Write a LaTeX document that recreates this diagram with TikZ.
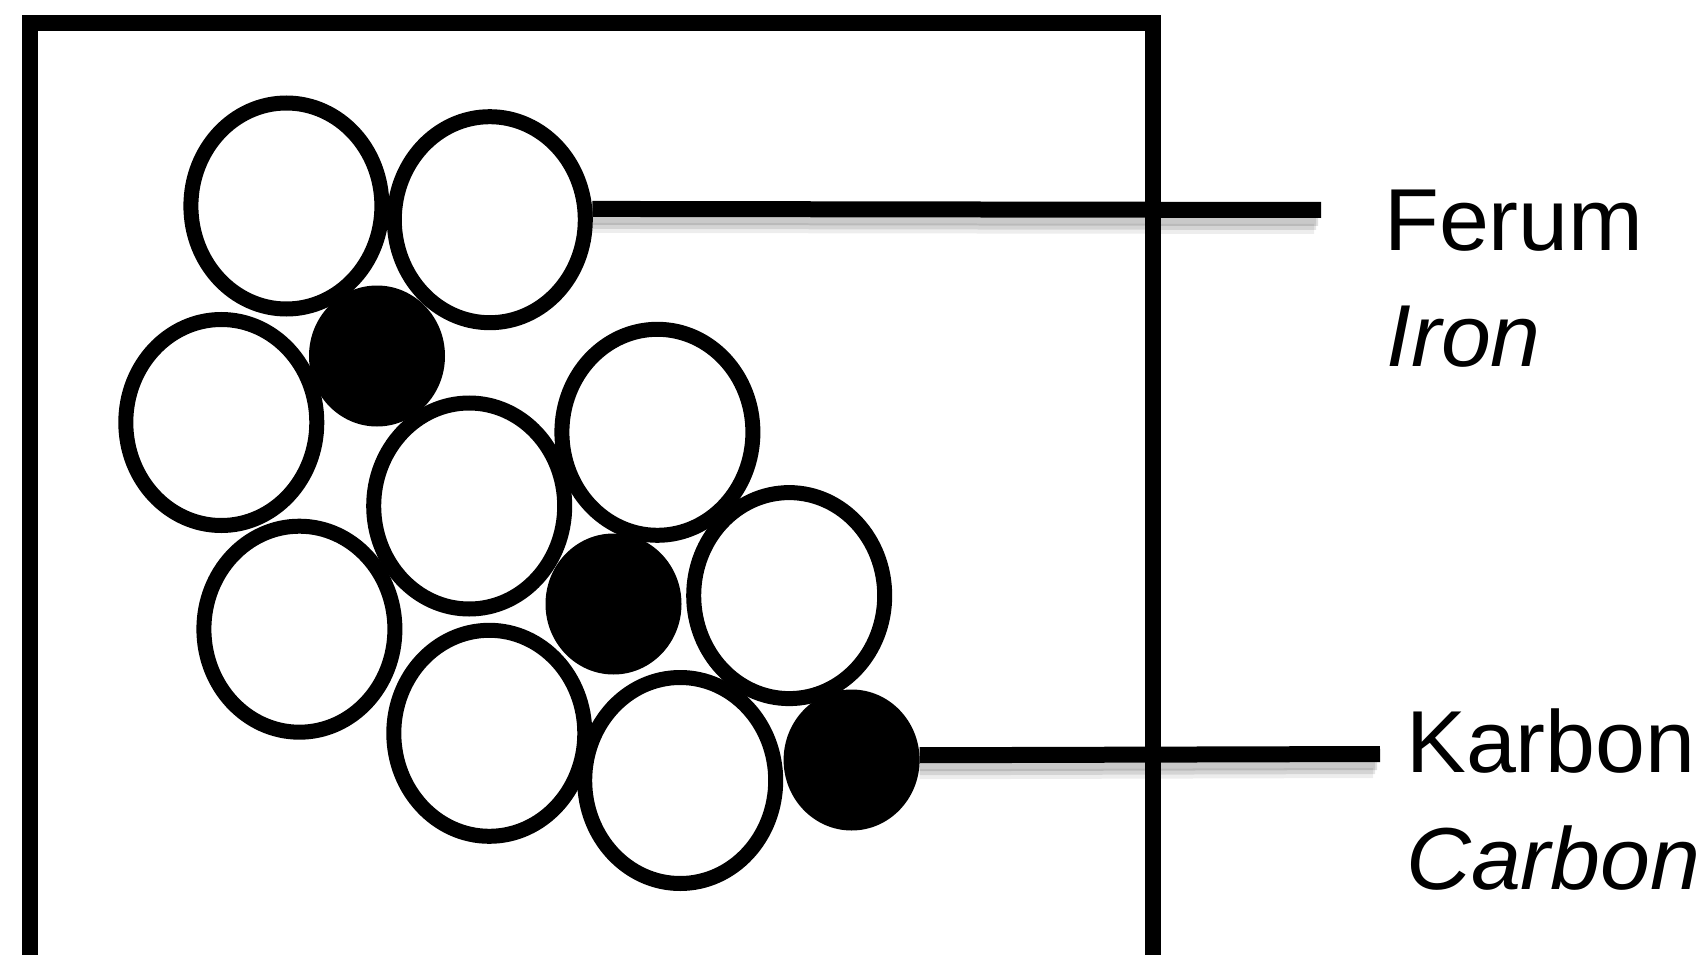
\documentclass[tikz,border=0pt]{standalone}
\usepackage{fontspec}
\setmainfont{Liberation Sans}
\usetikzlibrary{shapes.geometric}
\tikzset{
  fe/.style={ellipse, draw=black, fill=white, line width=15, minimum width=191, minimum height=206, inner sep=0},
  ca/.style={ellipse, fill=black, minimum width=136, minimum height=141, inner sep=0},
  lbl/.style={anchor=base west, inner sep=0, xscale=1.02, font=\fontsize{88}{100}\selectfont},
  leader/.style={line width=16, black},
  shadeA/.style={line width=14, black, opacity=0.12},
  shadeB/.style={line width=12, black, opacity=0.10},
  shadeC/.style={line width=10, black, opacity=0.07},
}
\begin{document}
\begin{tikzpicture}[x=1pt,y=-1pt]
\useasboundingbox (0,0) rectangle (1701,955);
\clip (0,0) rectangle (1701,955);
\fill[white] (0,0) rectangle (1701,955);
% carbon atoms (behind)
\node[ca] (k1) at (377,356) {};
\node[ca] (k2) at (613.5,604) {};
% iron atoms
\node[fe] (f1) at (286.4,206) {};
\node[fe] (f2) at (489.8,219.7) {};
\node[fe] (f4) at (221.3,422.5) {};
\node[fe] (f6) at (657.4,432.3) {};
\node[fe] (f5) at (469.2,506) {};
\node[fe] (f8) at (789.2,595.6) {};
\node[fe] (f9) at (299.4,629.2) {};
\node[fe] (f10) at (489.3,733.3) {};
\node[fe] (f11) at (680.2,780.5) {};
\node[ca] (k3) at (851.6,760) {};
% leader ends
\coordinate (feend) at (1321,210);
\coordinate (kaend) at (1380,754);
% shadows
\foreach \s/\o/\w in {shadeA/-9/-3, shadeB/-14/-5, shadeC/-19/-7}{
  \draw[\s] ([yshift=\o]f2.6) -- ([yshift=\o,xshift=\w]feend);
  \draw[\s] ([yshift=\o]k3.4) -- ([yshift=\o,xshift=\w]kaend);
}
% frame
\draw[line width=16] (29.5,23.5) rectangle (1153,1100);
% leaders
\draw[leader] (f2.6) -- (feend);
\draw[leader] (k3.4) -- (kaend);
% labels
\node[lbl] (ferum) at (1384,250) {Ferum};
\node[lbl] (iron) at (1386,366) {\itshape Iron};
\node[lbl] (karbon) at (1406,772) {Karbon};
\node[lbl] (carbon) at (1406,889) {\itshape Carbon};
\end{tikzpicture}
\end{document}
